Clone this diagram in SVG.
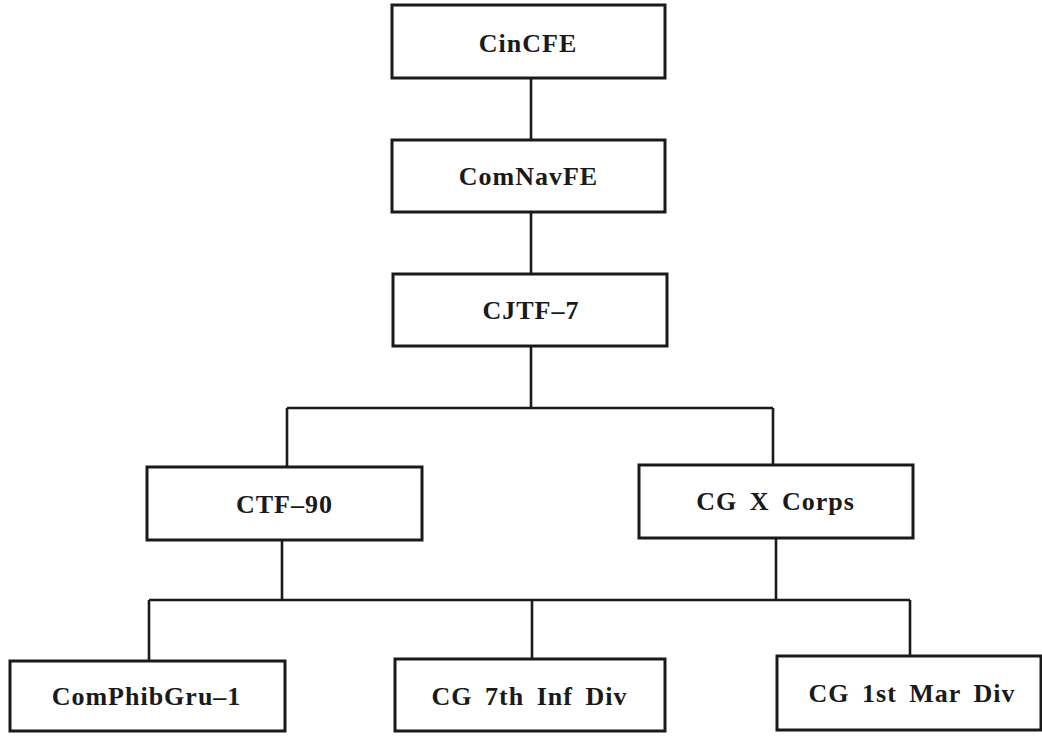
<svg xmlns="http://www.w3.org/2000/svg" width="1042" height="736" viewBox="0 0 1042 736">
<style>
.box{fill:#ffffff;stroke:#1a1a1a;stroke-width:3}
.lbl{font-family:"Liberation Serif","Times New Roman",serif;font-weight:bold;font-size:26px;letter-spacing:1px;word-spacing:5px;fill:#1a1a1a;text-anchor:middle}
.con{fill:none;stroke:#1a1a1a;stroke-width:2.6}
</style>
<rect width="1042" height="736" fill="#ffffff"/>
<g id="connectors">
<path class="con" d="M531 78V140"/>
<path class="con" d="M531 212V274"/>
<path class="con" d="M531 346V408M287 408H773M287 408V467M773 408V465"/>
<path class="con" d="M282 540V600M776 538V600M149 600H910M149 600V661M532 600V659M910 600V656"/>
</g>
<g id="cincfe"><rect class="box" x="392" y="5" width="273" height="73"/><text class="lbl" x="528" y="52">CinCFE</text></g>
<g id="comnavfe"><rect class="box" x="392" y="140" width="273" height="72"/><text class="lbl" x="528.5" y="185">ComNavFE</text></g>
<g id="cjtf7"><rect class="box" x="393" y="274" width="274" height="72"/><text class="lbl" x="531" y="319">CJTF–7</text></g>
<g id="ctf90"><rect class="box" x="147" y="467" width="275" height="73"/><text class="lbl" x="284.5" y="513">CTF–90</text></g>
<g id="cgxcorps"><rect class="box" x="639" y="465" width="274" height="73"/><text class="lbl" x="775.5" y="510">CG X Corps</text></g>
<g id="comphibgru1"><rect class="box" x="10" y="661" width="275" height="70"/><text class="lbl" x="146.5" y="705">ComPhibGru–1</text></g>
<g id="cg7thinfdiv"><rect class="box" x="395" y="659" width="270" height="72"/><text class="lbl" x="529.5" y="705">CG 7th Inf Div</text></g>
<g id="cg1stmardiv"><rect class="box" x="777" y="656" width="264" height="74"/><text class="lbl" x="912" y="702">CG 1st Mar Div</text></g>
</svg>
